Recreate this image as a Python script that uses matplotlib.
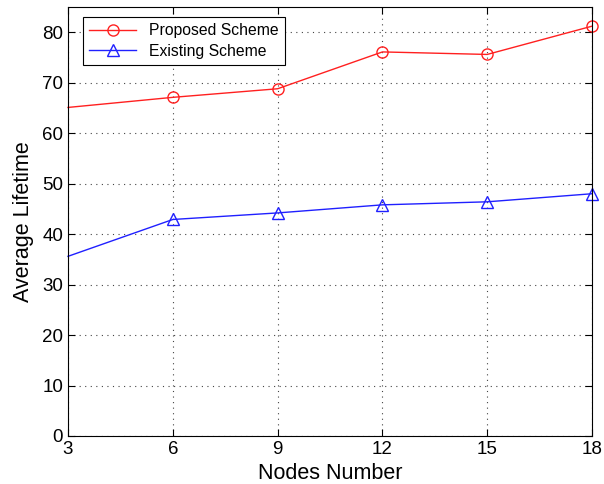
import matplotlib.pyplot as plt

plt.rcParams["font.family"] = ["Liberation Sans", "DejaVu Sans"]

nodes = [3, 6, 9, 12, 15, 18]
proposed = [65.1, 67.1, 68.8, 76.1, 75.6, 81.2]
existing = [35.6, 42.9, 44.2, 45.8, 46.4, 48.0]

fig = plt.figure(figsize=(6.04, 4.84), dpi=100)
ax = fig.add_axes([68 / 604, 1 - 436 / 484, (592 - 68) / 604, (436 - 7) / 484])

ax.plot(nodes, proposed, color="#ff2020", lw=1.0, marker="o", ms=8, mfc="none",
        mew=1.0, markevery=slice(1, None), label="Proposed Scheme", clip_on=False)
ax.plot(nodes, existing, color="#2020ff", lw=1.0, marker="^", ms=8, mfc="none",
        mew=1.0, markevery=slice(1, None), label="Existing Scheme", clip_on=False)

ax.set_xlim(3, 18)
ax.set_ylim(0, 85)
ax.set_xticks(nodes)
ax.set_yticks(range(0, 81, 10))
ax.grid(True, linestyle=(0, (1, 4)), color="#444444", lw=0.8)
ax.tick_params(direction="in", top=True, right=True, labelsize=13.5, length=5)
for s in ax.spines.values():
    s.set_linewidth(0.8)

ax.set_xlabel("Nodes Number", fontsize=15.5, labelpad=4)
ax.set_ylabel("Average Lifetime", fontsize=15.5, labelpad=6)

leg = ax.legend(loc="upper left", bbox_to_anchor=(15 / 524, 1 - 10 / 429),
                borderaxespad=0, fontsize=11.3, fancybox=False, framealpha=1,
                edgecolor="black", handlelength=3, labelspacing=0.35)
leg.get_frame().set_linewidth(0.8)

fig.savefig("out.png", dpi=100)
